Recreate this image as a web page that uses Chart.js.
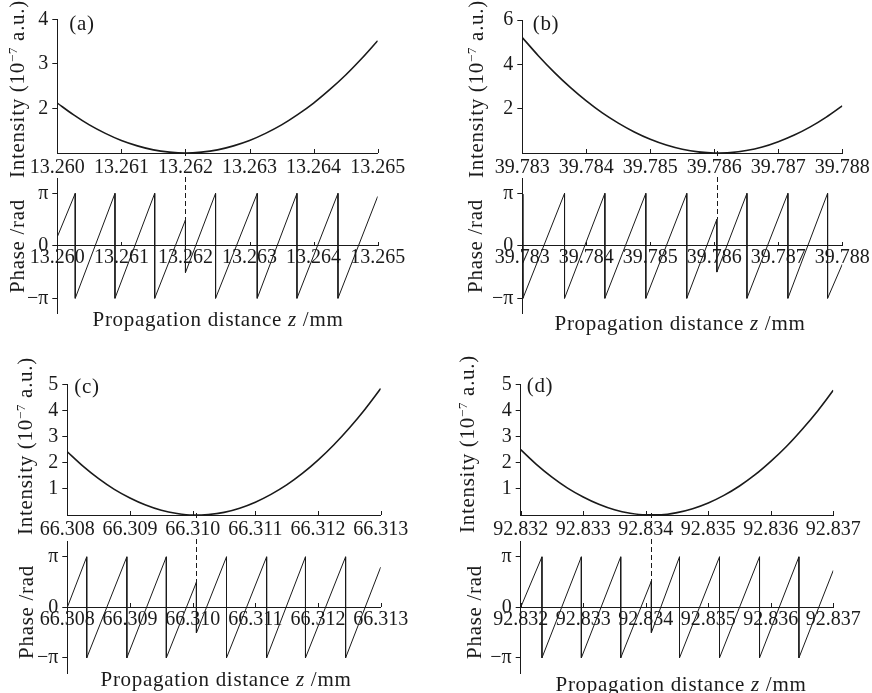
<!DOCTYPE html>
<html>
<head>
<meta charset="utf-8">
<script src="https://cdn.jsdelivr.net/npm/chart.js@4/dist/chart.umd.min.js"></script>
<style>
  body { margin: 0; background: #fff; }
  #fig { position: relative; width: 872px; height: 693px; overflow: hidden; background: #fff;
         font-family: "Liberation Serif", "DejaVu Serif", serif; color: #1a1a1a; }
  #fig canvas { position: absolute; }
  .lbl { position: absolute; white-space: nowrap; font-size: 21px; line-height: 1; letter-spacing: 0.7px;
         transform: translate(-50%, -50%); }
  .rot { transform: translate(-50%, -50%) rotate(-90deg); }
  .lbl sup { font-size: 13px; vertical-align: 7px; line-height: 0; }
</style>
</head>
<body>
<div id="fig"></div>
<script>
// z tick labels (mm)
const zTicksA = [13.260, 13.261, 13.262, 13.263, 13.264, 13.265];
const zTicksB = [39.783, 39.784, 39.785, 39.786, 39.787, 39.788];
const zTicksC = [66.308, 66.309, 66.310, 66.311, 66.312, 66.313];
const zTicksD = [92.832, 92.833, 92.834, 92.835, 92.836, 92.837];

// intensity ticks and ranges (10^-7 a.u.)
const intTicksA = [2, 3, 4];
const intTicksB = [2, 4, 6];
const intTicksC = [1, 2, 3, 4, 5];
const intTicksD = [1, 2, 3, 4, 5];
const intRanges = [[1, 4], [0, 6], [0, 5], [0, 5]];

// intensity
const intZA = [13.26000, 13.26025, 13.26050, 13.26075, 13.26100, 13.26125, 13.26150, 13.26175, 13.26200, 13.26225, 13.26250,
               13.26275, 13.26300, 13.26325, 13.26350, 13.26375, 13.26400, 13.26425, 13.26450, 13.26475, 13.26500];
const intA = [2.12, 1.86, 1.63, 1.44, 1.28, 1.16, 1.07, 1.02, 1.00, 1.02, 1.07, 1.16, 1.28, 1.44, 1.63, 1.86, 2.12, 2.42, 2.75, 3.12, 3.52];
const intZB = [39.78300, 39.78325, 39.78350, 39.78375, 39.78400, 39.78425, 39.78450, 39.78475, 39.78500, 39.78525, 39.78550,
               39.78575, 39.78600, 39.78625, 39.78650, 39.78675, 39.78700, 39.78725, 39.78750, 39.78775, 39.78800];
const intB = [5.21, 4.39, 3.64, 2.96, 2.35, 1.81, 1.35, 0.95, 0.62, 0.36, 0.17, 0.05, 0.00, 0.02, 0.11, 0.27, 0.51, 0.81, 1.18, 1.62, 2.13];
const intZC = [66.30800, 66.30825, 66.30850, 66.30875, 66.30900, 66.30925, 66.30950, 66.30975, 66.31000, 66.31025, 66.31050,
               66.31075, 66.31100, 66.31125, 66.31150, 66.31175, 66.31200, 66.31225, 66.31250, 66.31275, 66.31300];
const intC = [2.42, 1.87, 1.39, 0.98, 0.65, 0.38, 0.18, 0.06, 0.00, 0.02, 0.10, 0.26, 0.49, 0.79, 1.15, 1.59, 2.10, 2.68, 3.33, 4.05, 4.84];
const intZD = [92.83200, 92.83225, 92.83250, 92.83275, 92.83300, 92.83325, 92.83350, 92.83375, 92.83400, 92.83425, 92.83450,
               92.83475, 92.83500, 92.83525, 92.83550, 92.83575, 92.83600, 92.83625, 92.83650, 92.83675, 92.83700];
const intD = [2.50, 1.94, 1.45, 1.03, 0.69, 0.41, 0.20, 0.07, 0.01, 0.01, 0.09, 0.24, 0.46, 0.75, 1.11, 1.54, 2.05, 2.62, 3.27, 3.98, 4.77];

// phase sawtooth corners (rad)
const phZA = [13.26000, 13.26028, 13.26028, 13.26090, 13.26090, 13.26152, 13.26152, 13.26200, 13.26200,
              13.26247, 13.26247, 13.26312, 13.26312, 13.26374, 13.26374, 13.26438, 13.26438, 13.26500];
const phA = [0.54, 3.14, -3.14, 3.14, -3.14, 3.14, -3.14, 1.55, -1.60, 3.14, -3.14, 3.14, -3.14, 3.14, -3.14, 3.14, -3.14, 2.96];
const phZB = [39.78300, 39.78301, 39.78366, 39.78366, 39.78429, 39.78429, 39.78493, 39.78493, 39.78557, 39.78557,
              39.78604, 39.78604, 39.78651, 39.78651, 39.78715, 39.78715, 39.78777, 39.78777, 39.78800];
const phB = [3.10, -3.14, 3.14, -3.14, 3.14, -3.14, 3.14, -3.14, 3.14, -3.14, 1.59, -1.57, 3.14, -3.14, 3.14, -3.14, 3.14, -3.14, -1.10];
const phZC = [66.30800, 66.30831, 66.30831, 66.30895, 66.30895, 66.30958, 66.30958, 66.31006, 66.31006,
              66.31054, 66.31054, 66.31118, 66.31118, 66.31180, 66.31180, 66.31244, 66.31244, 66.31300];
const phC = [0.00, 3.14, -3.14, 3.14, -3.14, 3.14, -3.14, 1.56, -1.59, 3.14, -3.14, 3.14, -3.14, 3.14, -3.14, 3.14, -3.14, 2.50];
const phZD = [92.83200, 92.83234, 92.83234, 92.83297, 92.83297, 92.83360, 92.83360, 92.83409, 92.83409,
              92.83454, 92.83454, 92.83518, 92.83518, 92.83582, 92.83582, 92.83645, 92.83645, 92.83700];
const phD = [0.00, 3.14, -3.14, 3.14, -3.14, 3.14, -3.14, 1.63, -1.57, 3.14, -3.14, 3.14, -3.14, 3.14, -3.14, 3.14, -3.14, 2.30];

const phaseTicks = [-Math.PI, 0, Math.PI];
const phaseTickLabels = ['\u2212\u03c0', '0', '\u03c0'];

// focus position (dashed line) and top of the phase jump
const focusZ = [13.26200, 39.78604, 66.31006, 92.83409];
const jumpTop = [1.55, 1.59, 1.56, 1.63];
const panelNames = ['(a)', '(b)', '(c)', '(d)'];

const panels = [
  { iz: intZA, iv: intA, pz: phZA, pv: phA, zt: zTicksA, yt: intTicksA },
  { iz: intZB, iv: intB, pz: phZB, pv: phB, zt: zTicksB, yt: intTicksB },
  { iz: intZC, iv: intC, pz: phZC, pv: phC, zt: zTicksC, yt: intTicksC },
  { iz: intZD, iv: intD, pz: phZD, pv: phD, zt: zTicksD, yt: intTicksD }
];

// page layout of each panel (pixels)
const frames = [
  { left: 0, top: 0, xL: 57.3, xR: 377.7, iTop: 19.3, iBot: 153.3, pTop: 179, pBot: 313.3, pLim: 4.02,
    tag: [82, 23], iTitle: [17, 89], pTitle: [17, 246], zTitle: [218, 319] },
  { left: 436, top: 0, xL: 522.3, xR: 842.3, iTop: 20, iBot: 153.3, pTop: 179, pBot: 313.3, pLim: 4.02,
    tag: [546, 23], iTitle: [476, 89], pTitle: [475, 246], zTitle: [680, 323] },
  { left: 0, top: 340, xL: 67.3, xR: 380.7, iTop: 384.3, iBot: 515, pTop: 541.7, pBot: 673.3, pLim: 4.08,
    tag: [87, 386], iTitle: [25, 446], pTitle: [26, 612], zTitle: [226, 679] },
  { left: 436, top: 340, xL: 520.7, xR: 833.3, iTop: 384.3, iBot: 515, pTop: 541.7, pBot: 673.3, pLim: 4.08,
    tag: [540, 385], iTitle: [467, 444], pTitle: [474, 612], zTitle: [681, 684] }
];

const fig = document.getElementById('fig');
const serif = '"Liberation Serif", "DejaVu Serif", serif';
const ink = '#1a1a1a';
const tickFont = { family: serif, size: 20 };

function addCanvas(left, top, w, h) {
  const c = document.createElement('canvas');
  c.width = w;
  c.height = h;
  c.style.left = left + 'px';
  c.style.top = top + 'px';
  fig.appendChild(c);
  return c.getContext('2d');
}

function addLabel(html, pos, rotate) {
  const d = document.createElement('div');
  d.className = 'lbl' + (rotate ? ' rot' : '');
  d.innerHTML = html;
  d.style.left = pos[0] + 'px';
  d.style.top = pos[1] + 'px';
  fig.appendChild(d);
}

// small tick marks pointing up from the z axis
function innerTicks(onZero) {
  return {
    id: 'innerTicks',
    afterDraw(chart) {
      const xs = chart.scales.x;
      const y0 = onZero ? Math.round(chart.scales.y.getPixelForValue(0)) : Math.round(chart.chartArea.bottom);
      const ctx = chart.ctx;
      ctx.save();
      ctx.strokeStyle = ink;
      ctx.lineWidth = 1;
      ctx.beginPath();
      xs.ticks.forEach(t => {
        const px = Math.round(xs.getPixelForValue(t.value)) + 0.5;
        ctx.moveTo(px, y0);
        ctx.lineTo(px, y0 - 4);
      });
      ctx.stroke();
      ctx.restore();
    }
  };
}

// dashed marker at the focus
function focusLine(z, toValue) {
  return {
    id: 'focusLine',
    afterDraw(chart) {
      const px = Math.round(chart.scales.x.getPixelForValue(z)) + 0.5;
      const y1 = toValue == null ? chart.chartArea.bottom - 2 : 0;
      const y2 = toValue == null ? chart.chartArea.bottom + 7 : chart.scales.y.getPixelForValue(toValue);
      const ctx = chart.ctx;
      ctx.save();
      ctx.strokeStyle = ink;
      ctx.lineWidth = 1;
      ctx.setLineDash([5, 3]);
      ctx.beginPath();
      ctx.moveTo(px, y1);
      ctx.lineTo(px, y2);
      ctx.stroke();
      ctx.restore();
    }
  };
}

function zAxis(ticks, extra) {
  return Object.assign({
    type: 'linear',
    min: ticks[0],
    max: ticks[ticks.length - 1],
    afterBuildTicks: s => { s.ticks = ticks.map(v => ({ value: v })); },
    ticks: { autoSkip: false, maxRotation: 0, minRotation: 0, color: ink, font: tickFont, callback: v => v.toFixed(3) },
    grid: { display: false, drawTicks: false },
    border: { display: true, color: ink, width: 1 }
  }, extra);
}

function valueAxis(min, max, ticks, labels, width) {
  return {
    type: 'linear',
    min: min,
    max: max,
    afterBuildTicks: s => { s.ticks = ticks.map(v => ({ value: v })); },
    afterFit: s => { s.width = width; s.paddingTop = 0; s.paddingBottom = 0; },
    ticks: { padding: 4, color: ink, font: tickFont, callback: (v, i) => labels[i] },
    grid: { display: true, drawOnChartArea: false, drawTicks: true, tickLength: 5, color: ink },
    border: { display: true, color: ink, width: 1 }
  };
}

const baseOptions = {
  responsive: false,
  animation: false,
  devicePixelRatio: 1,
  events: [],
  plugins: { legend: { display: false }, tooltip: { enabled: false } }
};

panels.forEach((p, k) => {
  const f = frames[k];
  const w = 436;

  // intensity
  const iTopCanvas = f.top;
  const iH = f.iBot + 24 - iTopCanvas;
  const ctxI = addCanvas(f.left, iTopCanvas, w, iH);
  new Chart(ctxI, {
    type: 'scatter',
    data: {
      datasets: [{
        data: p.iz.map((z, i) => ({ x: z, y: p.iv[i] })),
        showLine: true, borderColor: ink, borderWidth: 1.6, pointRadius: 0,
        cubicInterpolationMode: 'monotone'
      }]
    },
    options: Object.assign({}, baseOptions, {
      layout: { padding: { left: 0, top: f.iTop - iTopCanvas, right: f.left + w - f.xR, bottom: 0 } },
      scales: {
        x: zAxis(p.zt, {
          position: 'bottom',
          afterFit: s => { s.height = 24; s.paddingLeft = 0; s.paddingRight = 0; }
        }),
        y: valueAxis(intRanges[k][0], intRanges[k][1], p.yt, p.yt.map(String), f.xL - f.left)
      }
    }),
    plugins: [innerTicks(false), focusLine(focusZ[k], null)]
  });
  // padding on the z tick labels
  Chart.getChart(ctxI).options.scales.x.ticks.padding = 3;
  Chart.getChart(ctxI).update();

  // phase
  const pTopCanvas = f.iBot + 24;
  const pH = f.pBot + 4 - pTopCanvas;
  const ctxP = addCanvas(f.left, pTopCanvas, w, pH);
  new Chart(ctxP, {
    type: 'scatter',
    data: {
      datasets: [{
        data: p.pz.map((z, i) => ({ x: z, y: p.pv[i] })),
        showLine: true, borderColor: ink, borderWidth: 1, pointRadius: 0, tension: 0
      }]
    },
    options: Object.assign({}, baseOptions, {
      layout: { padding: { left: 0, top: f.pTop - pTopCanvas, right: f.left + w - f.xR, bottom: 4 } },
      scales: {
        x: zAxis(p.zt, {
          position: { y: 0 },
          afterFit: s => { s.paddingLeft = 0; s.paddingRight = 0; }
        }),
        y: valueAxis(-f.pLim, f.pLim, phaseTicks, phaseTickLabels, f.xL - f.left)
      }
    }),
    plugins: [innerTicks(true), focusLine(focusZ[k], jumpTop[k])]
  });
  Chart.getChart(ctxP).options.scales.x.ticks.padding = 0;
  Chart.getChart(ctxP).update();

  // titles as page text
  addLabel(panelNames[k], f.tag, false);
  addLabel('Intensity (10<sup>\u22127</sup> a.u.)', f.iTitle, true);
  addLabel('Phase /rad', f.pTitle, true);
  addLabel('Propagation distance <i>z</i> /mm', f.zTitle, false);
});
</script>
</body>
</html>
